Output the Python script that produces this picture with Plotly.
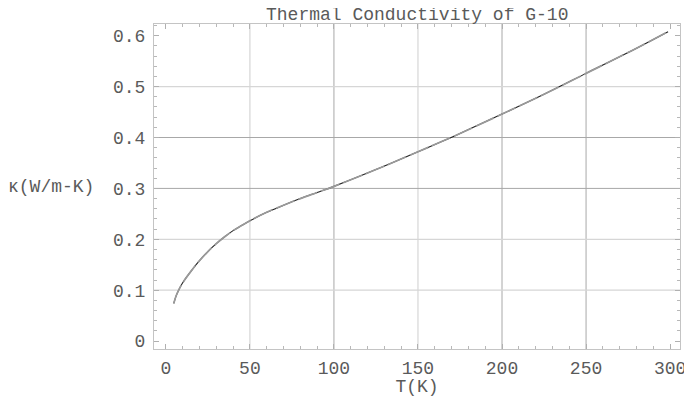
import plotly.graph_objects as go

# Data
T_K = [4.7, 6, 7.6, 10, 15, 20, 25, 30, 35, 40, 45, 50, 60, 70, 80, 90, 100,
       125, 150, 175, 200, 225, 250, 275, 298.8]
kappa = [0.074, 0.088, 0.100, 0.1145, 0.1375, 0.158, 0.176, 0.1915, 0.205, 0.217, 0.227,
         0.2365, 0.253, 0.267, 0.280, 0.292, 0.304, 0.337, 0.372, 0.408, 0.446, 0.485,
         0.526, 0.567, 0.608]

x_ticks = [0, 50, 100, 150, 200, 250, 300]
x_tick_labels = ["0", "50", "100", "150", "200", "250", "300"]
y_ticks = [0, 0.1, 0.2, 0.3, 0.4, 0.5, 0.6]
y_tick_labels = ["0", "0.1", "0.2", "0.3", "0.4", "0.5", "0.6"]

x_grid_light = [50, 150]
x_grid_dark = [100, 200, 250]
y_grid_light = [0.1, 0.2, 0.5]
y_grid_dark = [0.3, 0.4]

title_text = "Thermal Conductivity of G-10"
x_title = "T(K)"
y_title = "κ(W/m-K)"

FONT = "Liberation Mono, Courier New, monospace"
TXT = "#5a5a5a"
FS = 18

fig = go.Figure()
fig.add_trace(go.Scatter(x=T_K, y=kappa, mode="lines",
                         line=dict(color="#222222", width=1.1, shape="spline"),
                         hoverinfo="skip", showlegend=False))
fig.add_trace(go.Scatter(x=T_K, y=kappa, mode="lines",
                         line=dict(color="#9a9a9a", width=1.7, shape="spline", dash="20px,4px"),
                         hoverinfo="skip", showlegend=False))

shapes = []
for v in x_grid_light:
    shapes.append(dict(type="line", xref="x", yref="paper", x0=v, x1=v, y0=0, y1=1,
                       line=dict(color="#d6d6d6", width=1.2), layer="below"))
for v in x_grid_dark:
    shapes.append(dict(type="line", xref="x", yref="paper", x0=v, x1=v, y0=0, y1=1,
                       line=dict(color="#a8a8a8", width=1), layer="below"))
for v in y_grid_light:
    shapes.append(dict(type="line", xref="paper", yref="y", x0=0, x1=1, y0=v, y1=v,
                       line=dict(color="#d6d6d6", width=1.2), layer="below"))
for v in y_grid_dark:
    shapes.append(dict(type="line", xref="paper", yref="y", x0=0, x1=1, y0=v, y1=v,
                       line=dict(color="#a8a8a8", width=1), layer="below"))

axis_common = dict(showgrid=False, zeroline=False, showline=True, linecolor="#c4c4c4", linewidth=1,
                   mirror="ticks", ticks="inside", ticklen=5, tickcolor="#b0b0b0", tickwidth=1,
                   tickfont=dict(family=FONT, size=FS, color=TXT))

fig.update_layout(
    width=684, height=389,
    margin=dict(l=146, r=6, t=16, b=44),
    paper_bgcolor="white", plot_bgcolor="white",
    shapes=shapes,
    xaxis=dict(range=[-7.06, 305.9], tickvals=x_ticks, ticktext=x_tick_labels,
               minor=dict(dtick=10, tick0=0, ticks="inside", ticklen=3, tickcolor="#b8b8b8"),
               title=dict(text=x_title, font=dict(family=FONT, size=FS, color=TXT), standoff=0),
               ticklabelstandoff=2,
               **axis_common),
    yaxis=dict(range=[-0.0155, 0.623], tickvals=y_ticks, ticktext=y_tick_labels,
               minor=dict(dtick=0.02, tick0=0, ticks="inside", ticklen=3, tickcolor="#b8b8b8"),
               ticklabelstandoff=4,
               **axis_common),
    annotations=[
        dict(text=title_text, xref="paper", yref="paper", x=0.5, y=1, yshift=9,
             xanchor="center", yanchor="middle", showarrow=False,
             font=dict(family=FONT, size=18, color=TXT)),
        dict(text=y_title, xref="paper", yref="paper", x=0, y=0.5, xshift=-58,
             xanchor="right", yanchor="middle", showarrow=False,
             font=dict(family=FONT, size=FS, color=TXT)),
    ],
)

fig.write_html("out.html")
